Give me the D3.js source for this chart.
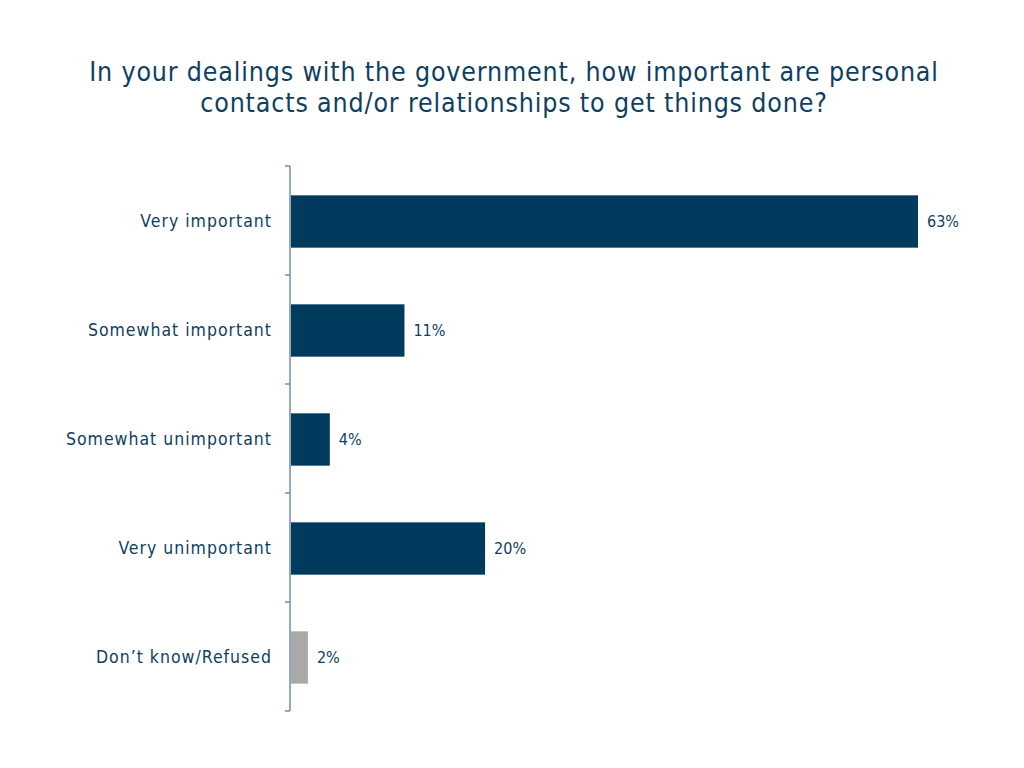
<!DOCTYPE html>
<html>
<head>
<meta charset="utf-8">
<script src="https://cdn.jsdelivr.net/npm/d3@7"></script>
<style>
  body { margin: 0; background: #fff; }
  svg text { font-family: "DejaVu Sans Condensed", "DejaVu Sans", sans-serif; }
</style>
</head>
<body>
<div id="chart"></div>
<script>
const categories = ["Very important", "Somewhat important", "Somewhat unimportant", "Very unimportant", "Don\u2019t know/Refused"];
// bar lengths; labels show rounded percentages
const values = [63, 11.4, 3.9, 19.5, 1.7];
const valueLabels = ["63%", "11%", "4%", "20%", "2%"];
const barColors = ["#003a5d", "#003a5d", "#003a5d", "#003a5d", "#a9a9a9"];
const titleLines = ["In your dealings with the government, how important are personal", "contacts and/or relationships to get things done?"];

const data = categories.map((c, i) => ({ cat: c, value: values[i], label: valueLabels[i], color: barColors[i] }));

const svg = d3.select("#chart").append("svg")
  .attr("width", 1024)
  .attr("height", 768);

svg.append("text")
  .attr("x", 514)
  .attr("y", 81)
  .attr("text-anchor", "middle")
  .attr("fill", "#0e3f62")
  .style("font-size", "26.5px")
  .style("letter-spacing", "0.85px")
  .selectAll("tspan")
  .data(titleLines)
  .join("tspan")
  .attr("x", 514)
  .attr("dy", (d, i) => i === 0 ? 0 : 31)
  .text(d => d);

const plotLeft = 291, plotTop = 166, innerH = 545;

const y = d3.scaleBand()
  .domain(categories)
  .range([plotTop + 1, plotTop + innerH + 1])
  .paddingInner(0.52)
  .paddingOuter(0.26);

const x = d3.scaleLinear()
  .domain([0, 63])
  .range([plotLeft, 918]);

// bars
svg.append("g").selectAll("rect")
  .data(data)
  .join("rect")
  .attr("x", x(0))
  .attr("y", d => y(d.cat))
  .attr("width", d => x(d.value) - x(0))
  .attr("height", y.bandwidth())
  .attr("fill", d => d.color);

// axis line with ticks at band boundaries
const step = innerH / categories.length;
const axis = svg.append("g").attr("stroke", "#6f8ea8").attr("stroke-width", 1.5);
axis.append("line")
  .attr("x1", plotLeft - 1).attr("x2", plotLeft - 1)
  .attr("y1", plotTop).attr("y2", plotTop + innerH);
axis.selectAll("line.tick")
  .data(d3.range(categories.length + 1))
  .join("line")
  .attr("class", "tick")
  .attr("x1", plotLeft - 6).attr("x2", plotLeft - 1)
  .attr("y1", i => plotTop + i * step)
  .attr("y2", i => plotTop + i * step);

// category labels
svg.append("g").selectAll("text")
  .data(data)
  .join("text")
  .attr("x", 272)
  .attr("y", d => y(d.cat) + y.bandwidth() / 2 - 1)
  .attr("dy", "0.35em")
  .attr("text-anchor", "end")
  .attr("fill", "#0e3f62")
  .style("font-size", "17.5px")
  .style("letter-spacing", "1px")
  .text(d => d.cat);

// value labels
svg.append("g").selectAll("text")
  .data(data)
  .join("text")
  .attr("x", d => x(d.value) + 9)
  .attr("y", d => y(d.cat) + y.bandwidth() / 2)
  .attr("dy", "0.35em")
  .attr("fill", "#0e3f62")
  .style("font-size", "16px")
  .text(d => d.label);
</script>
</body>
</html>
